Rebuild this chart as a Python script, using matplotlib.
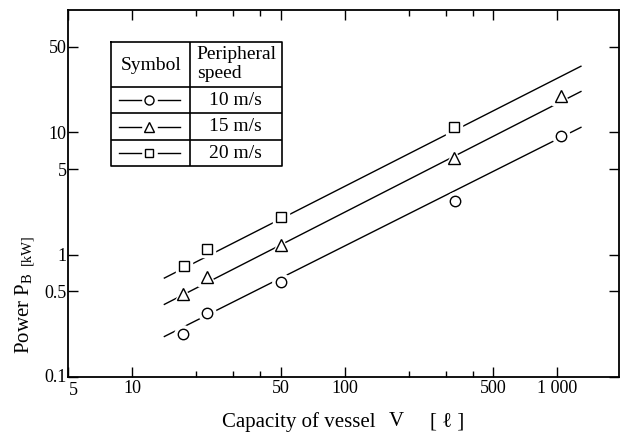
import matplotlib
matplotlib.use("Agg")
import matplotlib.pyplot as plt
from matplotlib.ticker import FixedLocator, NullFormatter
from matplotlib.transforms import ScaledTranslation

plt.rcParams['font.family'] = ['Liberation Serif', 'DejaVu Serif']
plt.rcParams['mathtext.fontset'] = 'custom'
plt.rcParams['mathtext.rm'] = 'Liberation Serif'

# ---- data ----
speeds = ['10 m/s', '15 m/s', '20 m/s']
markers = ['o', '^', 's']

circ_x = [17.4, 22.5, 50, 330, 1040]
circ_y = [0.225, 0.335, 0.597, 2.75, 9.27]
tri_x = [17.4, 22.5, 50, 327, 1040]
tri_y = [0.476, 0.66, 1.20, 6.16, 20.0]
sq_x = [17.5, 22.5, 50, 327]
sq_y = [0.81, 1.105, 2.05, 11.05]

fit_x = [14.1, 1300]
circ_fit_y = [0.213, 11.05]
tri_fit_y = [0.39, 21.7]
sq_fit_y = [0.64, 34.9]

x_major = [5, 10, 50, 100, 500, 1000]
x_major_labels = ['5', '10', '50', '100', '500', '1 000']
x_minor = [20, 30, 40, 200, 300, 400]
y_major = [0.1, 0.5, 1, 5, 10, 50]
y_major_labels = ['0.1', '0.5', '1', '5', '10', '50']

W, H = 624, 433
fig = plt.figure(figsize=(W / 100, H / 100), dpi=100)
L, R, T, B = 68, 619, 10, 377
ax = fig.add_axes([L / W, 1 - B / H, (R - L) / W, (B - T) / H])
ax.set_xscale('log')
ax.set_yscale('log')
ax.set_xlim(5, 1950)
ax.set_ylim(0.1, 100)

series = [(circ_x, circ_y, circ_fit_y, 'o', 7.5),
          (tri_x, tri_y, tri_fit_y, '^', 8.5),
          (sq_x, sq_y, sq_fit_y, 's', 6.5)]
for xs, ys, fy, m, ms in series:
    ax.plot(fit_x, fy, color='black', lw=1.0, zorder=2, solid_capstyle='butt')
    ax.plot(xs, ys, ls='none', marker=m, ms=ms + 5, mfc='white', mec='white', zorder=3)
    ax.plot(xs, ys, ls='none', marker=m, ms=ms, mfc='white', mec='black', mew=1.0, zorder=4)

ax.xaxis.set_major_locator(FixedLocator(x_major))
ax.set_xticklabels(x_major_labels)
ax.xaxis.set_minor_locator(FixedLocator(x_minor))
ax.xaxis.set_minor_formatter(NullFormatter())
ax.yaxis.set_major_locator(FixedLocator(y_major))
ax.set_yticklabels(y_major_labels)
ax.yaxis.set_minor_locator(FixedLocator([]))
ax.tick_params(which='both', direction='in', top=True, right=True, labelsize=13, width=1.0)
ax.tick_params(which='major', length=7)
ax.tick_params(which='minor', length=4)
ax.tick_params(axis='x', pad=2)
ax.tick_params(axis='y', pad=1)
for s in ax.spines.values():
    s.set_linewidth(1.3)

# nudge the corner labels apart, as in the reference
lbl5 = ax.get_xticklabels()[0]
lbl5.set_transform(lbl5.get_transform() + ScaledTranslation(5 / 100, -2 / 100, fig.dpi_scale_trans))
lbl01 = ax.get_yticklabels()[0]
lbl01.set_transform(lbl01.get_transform() + ScaledTranslation(0, 2 / 100, fig.dpi_scale_trans))

# axis labels
ylab = 1 - 421.7 / H
fig.text(222 / W, ylab, 'Capacity of vessel', ha='left', va='center', fontsize=15)
fig.text(396 / W, ylab, 'V', ha='center', va='center', fontsize=15)
fig.text(447 / W, ylab, '[ ℓ ]', ha='center', va='center', fontsize=15)
fig.text(24 / W, 1 - 313 / H, 'Power P$_{\\mathrm{B}}$', rotation=90, ha='center', va='center', fontsize=15)
fig.text(27 / W, 1 - 250 / H, '[kW]', rotation=90, ha='center', va='center', fontsize=10.5)

# legend table
tx0, ty0, tx1, ty1 = 110.7, 42.3, 281.7, 166
tab = fig.add_axes([tx0 / W, 1 - ty1 / H, (tx1 - tx0) / W, (ty1 - ty0) / H])
tw, th = tx1 - tx0, ty1 - ty0
tab.set_xlim(0, tw)
tab.set_ylim(th, 0)
tab.axis('off')
lw = 1.2
tab.plot([0, tw, tw, 0, 0], [0, 0, th, th, 0], color='black', lw=lw, clip_on=False)
tab.plot([79.3, 79.3], [0, th], color='black', lw=lw)
for yy in [45, 71, 97.7]:
    tab.plot([0, tw], [yy, yy], color='black', lw=lw)
tab.text(40, 23, 'Symbol', ha='center', va='center', fontsize=14)
tab.text(86, 12, 'Peripheral', ha='left', va='center', fontsize=14)
tab.text(86, 31, 'speed', ha='left', va='center', fontsize=14)
row_c = [58, 84.3, 110.8]
for yc, lab, m, ms in zip(row_c, speeds, markers, [6.5, 7.5, 6]):
    tab.plot([8, 30], [yc, yc], color='black', lw=1.0)
    tab.plot([47, 69], [yc, yc], color='black', lw=1.0)
    tab.plot([38.5], [yc], ls='none', marker=m, ms=ms, mfc='white', mec='black', mew=1.0)
    tab.text(125, yc, lab, ha='center', va='center', fontsize=14)

fig.savefig('out.png', dpi=100)
